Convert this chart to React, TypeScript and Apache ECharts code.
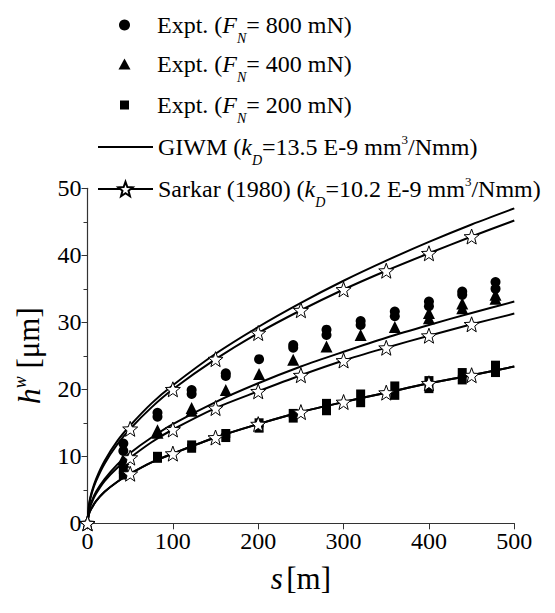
import React, { useEffect, useRef } from "react";
import * as echarts from "echarts";

// ---- data ----
const curveS = [0, 2, 5, 10, 20, 35, 50, 75, 100, 150, 200, 250, 300, 350, 400, 450, 500];
const giwm800 = [0, 3.0, 4.7, 6.6, 9.3, 12.3, 14.6, 17.9, 20.6, 25.3, 29.3, 32.9, 36.2, 39.2, 42.0, 44.6, 47.0];
const sarkar800 = [0, 2.8, 4.5, 6.3, 8.9, 11.8, 14.1, 17.3, 20.0, 24.5, 28.4, 31.8, 34.9, 37.7, 40.3, 42.8, 45.2];
const giwm400 = [0, 2.1, 3.3, 4.7, 6.6, 8.8, 10.5, 12.8, 14.8, 18.1, 20.9, 23.4, 25.6, 27.7, 29.6, 31.4, 33.1];
const sarkar400 = [0, 2.0, 3.1, 4.4, 6.3, 8.3, 9.8, 12.1, 14.0, 17.2, 19.7, 22.1, 24.3, 26.2, 28.0, 29.7, 31.3];
const giwm200 = [0, 1.5, 2.3, 3.3, 4.7, 6.2, 7.4, 9.1, 10.4, 12.8, 14.8, 16.6, 18.1, 19.5, 20.9, 22.1, 23.4];
const sarkar200 = [0, 1.5, 2.3, 3.3, 4.7, 6.2, 7.4, 9.1, 10.4, 12.8, 14.8, 16.6, 18.1, 19.5, 20.9, 22.1, 23.4];
const starS = [0, 50, 100, 150, 200, 250, 300, 350, 400, 450];

const expt800S = [42, 42, 82, 82, 122, 122, 162, 162, 201, 241, 241, 280, 280, 320, 320, 360, 360, 400, 400, 439, 439, 478, 478];
const expt800H = [11.9, 10.8, 16.5, 15.9, 19.9, 19.3, 22.4, 22.0, 24.5, 26.6, 26.2, 28.9, 28.1, 30.2, 29.6, 31.6, 30.9, 33.1, 32.4, 34.6, 34.1, 36.0, 35.0];
const expt400S = [42, 42, 82, 82, 122, 122, 162, 201, 241, 280, 320, 360, 400, 400, 439, 439, 478, 478];
const expt400H = [9.6, 9.2, 13.9, 13.5, 17.2, 16.8, 19.9, 22.3, 24.4, 26.4, 28.1, 29.3, 31.4, 30.6, 32.8, 32.1, 34.1, 33.5];
const expt200S = [42, 42, 82, 82, 122, 122, 162, 162, 201, 201, 241, 241, 280, 280, 320, 320, 360, 360, 400, 400, 439, 439, 478, 478];
const expt200H = [8.0, 7.2, 10.0, 9.7, 11.7, 11.2, 13.4, 12.8, 15.0, 14.2, 16.4, 15.7, 17.9, 16.8, 19.3, 18.0, 20.5, 19.1, 21.3, 20.1, 22.5, 21.4, 23.6, 22.5];

const xTicks = { min: 0, max: 500, interval: 100 };
const yTicks = { min: 0, max: 50, interval: 10 };

const NAME_800 = "Expt. 800";
const NAME_400 = "Expt. 400";
const NAME_200 = "Expt. 200";
const NAME_GIWM = "GIWM";
const NAME_SARKAR = "Sarkar";

const FONT = "'Liberation Serif', 'Times New Roman', 'DejaVu Serif', serif";

function starPath(): string {
  let d = "";
  for (let i = 0; i < 10; i++) {
    const r = i % 2 ? 0.42 : 1;
    const a = (-90 + i * 36) * (Math.PI / 180);
    d += (i ? "L" : "M") + (r * Math.cos(a)).toFixed(4) + " " + (r * Math.sin(a)).toFixed(4);
  }
  return "path://" + d + "Z";
}
const STAR = starPath();

const pairs = (xs: number[], ys: number[]) => xs.map((x, i) => [x, ys[i]]);

function mkRich(lead: number) {
  return {
    f: { fontFamily: FONT, fontSize: 24, color: "#000", lineHeight: 28, padding: [0, 0, 0, lead] },
    n: { fontFamily: FONT, fontSize: 24, color: "#000", lineHeight: 28 },
    i: { fontFamily: FONT, fontSize: 24, fontStyle: "italic", color: "#000", lineHeight: 28 },
    sub: { fontFamily: FONT, fontSize: 14, fontStyle: "italic", color: "#000", lineHeight: 28, padding: [26, 0, 0, 0] },
    sup: { fontFamily: FONT, fontSize: 13, color: "#000", lineHeight: 28, padding: [0, 0, 16, 0] },
  };
}

const legendText: Record<string, string> = {
  [NAME_800]: "{f|Expt. (}{i|F}{sub|N}{n|= 800 mN)}",
  [NAME_400]: "{f|Expt. (}{i|F}{sub|N}{n|= 400 mN)}",
  [NAME_200]: "{f|Expt. (}{i|F}{sub|N}{n|= 200 mN)}",
  [NAME_GIWM]: "{f|GIWM (}{i|k}{sub|D}{n|=13.5 E-9 mm}{sup|3}{n|/Nmm)}",
  [NAME_SARKAR]: "{f|Sarkar (1980) (}{i|k}{sub|D}{n|=10.2 E-9 mm}{sup|3}{n|/Nmm)}",
};

// icon centre x = 124.5, text start x = 157
function mkLegend(name: string, top: number, itemWidth: number, itemHeight: number, extra: any = {}) {
  const left = 124.5 - itemWidth / 2;
  const lead = 157 - (left + itemWidth + 5);
  return {
    show: true,
    orient: "vertical",
    left,
    top,
    padding: 0,
    itemWidth,
    itemHeight,
    data: [name],
    formatter: (n: string) => legendText[n],
    textStyle: { color: "#000", rich: mkRich(lead) },
    selectedMode: false,
    ...extra,
  };
}

function giwmSeries(ys: number[]) {
  return {
    type: "line",
    name: NAME_GIWM,
    data: pairs(curveS, ys),
    symbol: "none",
    smooth: 0.3,
    lineStyle: { color: "#000", width: 2 },
    itemStyle: { color: "#000" },
    z: 3,
  };
}

function sarkarSeries(ys: number[]) {
  return {
    type: "line",
    name: NAME_SARKAR,
    data: curveS.map((s, i) =>
      starS.includes(s)
        ? { value: [s, ys[i]] }
        : { value: [s, ys[i]], symbol: "none" }
    ),
    symbol: STAR,
    symbolSize: 15,
    showSymbol: true,
    smooth: 0.3,
    lineStyle: { color: "#000", width: 2 },
    itemStyle: { color: "#fff", borderColor: "#000", borderWidth: 1 },
    z: 4,
  };
}

export default function App() {
  const ref = useRef<HTMLDivElement>(null);
  useEffect(() => {
    if (!ref.current) return;
    const chart = echarts.init(ref.current, undefined, { renderer: "svg" });
    chart.setOption({
      animation: false,
      backgroundColor: "#fff",
      legend: [
        mkLegend(NAME_800, 5, 11, 11),
        mkLegend(NAME_400, 44, 12, 11),
        mkLegend(NAME_200, 85, 9, 9),
        mkLegend(NAME_GIWM, 127, 55, 18, { itemStyle: { opacity: 0 }, lineStyle: { color: "#000", width: 2 } }),
        mkLegend(NAME_SARKAR, 169, 55, 18),
      ],
      grid: { left: 87.5, right: 40.7, top: 188.3, bottom: 89.7, containLabel: false },
      xAxis: {
        type: "value",
        ...xTicks,
        name: "{i|s} {n|[m]}",
        nameLocation: "middle",
        nameGap: 40,
        nameTextStyle: {
          rich: {
            i: { fontFamily: FONT, fontSize: 31, fontStyle: "italic", color: "#000" },
            n: { fontFamily: FONT, fontSize: 31, color: "#000" },
          },
        },
        axisLine: { show: true, lineStyle: { color: "#333", width: 1.2 } },
        axisTick: { show: true, inside: false, length: 6, lineStyle: { color: "#333" } },
        axisLabel: { fontFamily: FONT, fontSize: 24, color: "#000", margin: 6 },
        splitLine: { show: false },
      },
      yAxis: {
        type: "value",
        ...yTicks,
        name: "{i|h}{sup|w}{n| [μm]}",
        nameLocation: "middle",
        nameGap: 38,
        nameTextStyle: {
          rich: {
            i: { fontFamily: FONT, fontSize: 32, fontStyle: "italic", color: "#000", lineHeight: 34 },
            sup: { fontFamily: FONT, fontSize: 18, fontStyle: "italic", color: "#000", lineHeight: 34, padding: [0, 0, 18, 0] },
            n: { fontFamily: FONT, fontSize: 31, color: "#000", lineHeight: 34 },
          },
        },
        axisLine: { show: true, lineStyle: { color: "#333", width: 1.2 } },
        axisTick: { show: true, inside: false, length: 6, lineStyle: { color: "#333" } },
        minorTick: { show: true, splitNumber: 2, length: 4, lineStyle: { color: "#333" } },
        axisLabel: { fontFamily: FONT, fontSize: 24, color: "#000", margin: 6 },
        splitLine: { show: false },
      },
      series: [
        {
          type: "scatter",
          name: NAME_800,
          data: pairs(expt800S, expt800H),
          symbol: "circle",
          symbolSize: 10,
          itemStyle: { color: "#000", opacity: 1 },
          z: 2,
        },
        {
          type: "scatter",
          name: NAME_400,
          data: pairs(expt400S, expt400H),
          symbol: "triangle",
          symbolSize: 12,
          itemStyle: { color: "#000", opacity: 1 },
          z: 2,
        },
        {
          type: "scatter",
          name: NAME_200,
          data: pairs(expt200S, expt200H),
          symbol: "rect",
          symbolSize: 9,
          itemStyle: { color: "#000", opacity: 1 },
          z: 2,
        },
        giwmSeries(giwm800),
        giwmSeries(giwm400),
        giwmSeries(giwm200),
        sarkarSeries(sarkar800),
        sarkarSeries(sarkar400),
        sarkarSeries(sarkar200),
      ],
    });
    return () => chart.dispose();
  }, []);
  return <div ref={ref} style={{ width: 555, height: 613, position: "absolute", left: 0, top: 0 }} />;
}
